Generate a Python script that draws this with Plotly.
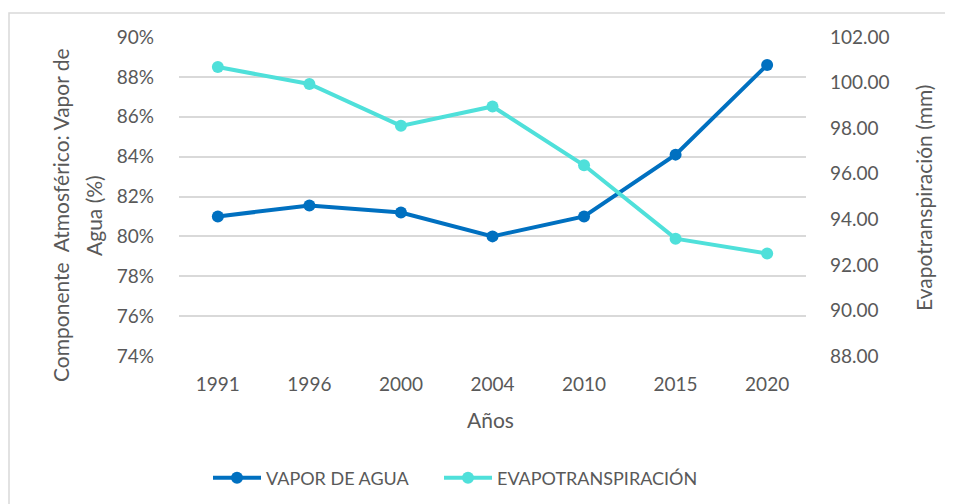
import plotly.graph_objects as go

# datos
anios = ["1991", "1996", "2000", "2004", "2010", "2015", "2020"]
vapor_agua = [81.0, 81.55, 81.2, 80.0, 81.0, 84.1, 88.6]          # %
evapotranspiracion = [100.68, 99.94, 98.1, 98.95, 96.37, 93.15, 92.5]  # mm

left_ticks = [74, 76, 78, 80, 82, 84, 86, 88, 90]
right_ticks = [88, 90, 92, 94, 96, 98, 100, 102]

gris = "#595959"
fuente = "Lato"


def px(xr):
    # pixel horizontal del grafico original -> fraccion del area de trazado
    return (xr - 179) / 627


def py(yr):
    return (356 - yr) / 319


fig = go.Figure()
fig.add_scatter(x=anios, y=vapor_agua, name="VAPOR DE AGUA", mode="lines+markers",
                line=dict(color="#0070C0", width=4), marker=dict(size=12, color="#0070C0"),
                legend="legend")
fig.add_scatter(x=anios, y=evapotranspiracion, name="EVAPOTRANSPIRACIÓN", mode="lines+markers",
                line=dict(color="#4FE0DA", width=4), marker=dict(size=12, color="#4FE0DA"),
                yaxis="y2", legend="legend2")

leyenda = dict(orientation="h", yanchor="middle", xanchor="left", y=py(478),
               font=dict(size=18, color=gris), itemwidth=48, bgcolor="rgba(0,0,0,0)")

fig.update_layout(
    width=945, height=496,
    margin=dict(l=171, r=147, t=29, b=148, autoexpand=False),
    paper_bgcolor="white", plot_bgcolor="white",
    font=dict(family=fuente, size=19, color=gris),
    xaxis=dict(type="category", showgrid=False, showline=False, ticks="",
               ticklabelstandoff=15),
    yaxis=dict(range=[74, 90], tickvals=left_ticks,
               ticktext=[f"{v}%" for v in left_ticks],
               gridcolor="#D9D9D9", gridwidth=1.5, zeroline=False, showline=False,
               ticklabelstandoff=24),
    yaxis2=dict(range=[88, 102], tickvals=right_ticks,
                ticktext=[f"{v:.2f}" for v in right_ticks],
                overlaying="y", side="right", showgrid=False, zeroline=False,
                ticklabelstandoff=23),
    legend=dict(leyenda, x=px(208)),
    legend2=dict(leyenda, x=px(439)),
    showlegend=True,
)

# marco del grafico
fig.add_shape(type="rect", xref="paper", yref="paper",
              x0=px(9), x1=px(970), y0=py(520), y1=py(13),
              line=dict(color="#D9D9D9", width=1.5), fillcolor="rgba(0,0,0,0)", layer="below")

# titulos de ejes
titulo = dict(size=21, color=gris)
fig.add_annotation(text="Componente  Atmosférico: Vapor de", xref="paper", yref="paper",
                   x=px(60), y=py(215), xanchor="center", yanchor="middle", textangle=-90,
                   showarrow=False, font=titulo)
fig.add_annotation(text="Agua (%)", xref="paper", yref="paper",
                   x=px(93), y=py(215), xanchor="center", yanchor="middle", textangle=-90,
                   showarrow=False, font=titulo)
fig.add_annotation(text="Evapotranspiración (mm)", xref="paper", yref="paper",
                   x=px(923), y=py(198), xanchor="center", yanchor="middle", textangle=-90,
                   showarrow=False, font=titulo)
fig.add_annotation(text="Años", xref="paper", yref="paper",
                   x=px(490), y=py(419), xanchor="center", yanchor="middle",
                   showarrow=False, font=titulo)

fig.write_html("out.html")
